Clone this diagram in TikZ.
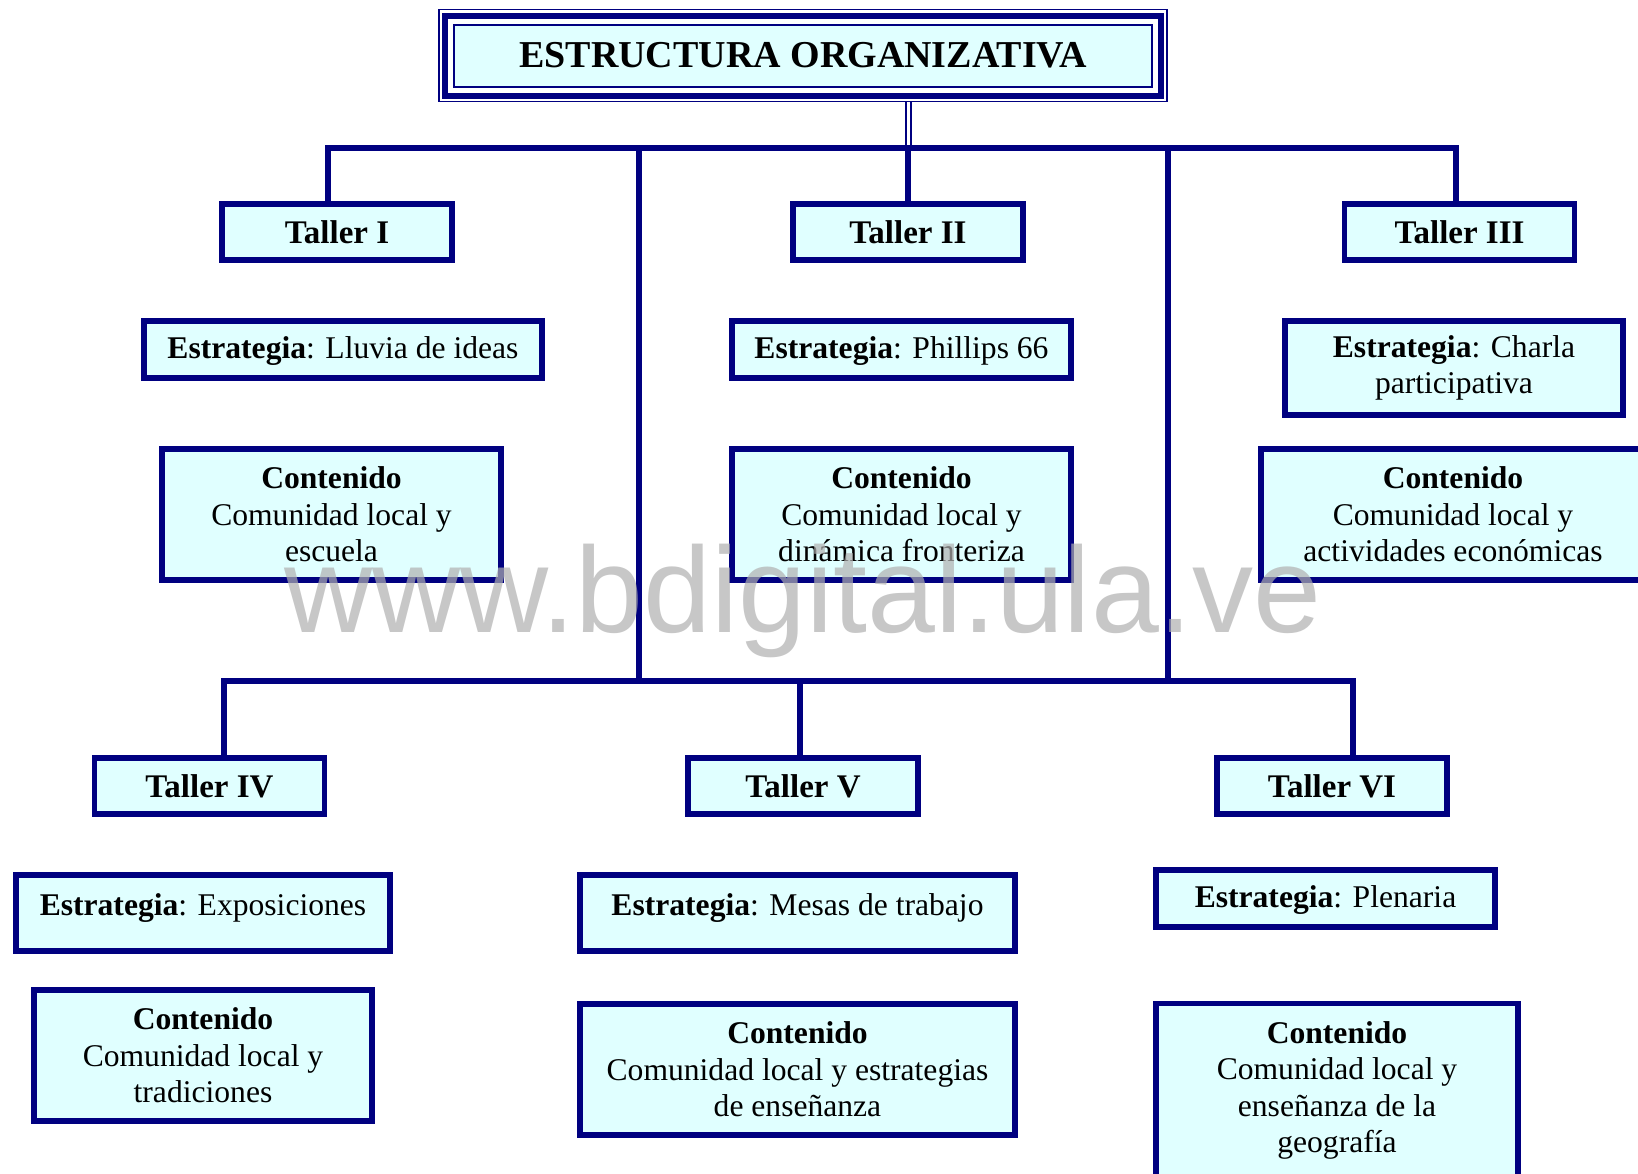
\documentclass[tikz,border=0pt]{standalone}
\usepackage{fontspec}
\setmainfont{Liberation Serif}
\newfontfamily\markfont{Liberation Sans}
\definecolor{navyline}{RGB}{0,0,128}
\definecolor{boxfill}{RGB}{224,255,255}
\tikzset{
  box/.style={draw=navyline, fill=boxfill, line width=2.8pt, align=center, inner sep=2pt, font=\fontsize{15.8}{18.3}\selectfont},
  taller/.style={box, minimum width=115pt, minimum height=28pt, font=\fontsize{16.5}{19}\selectfont\bfseries},
  link/.style={draw=navyline, line width=3.3pt},
}
\begin{document}
\begin{tikzpicture}[x=0.5pt, y=-0.5pt]
    \fill[white] (0,0) rectangle (1638,1173);
    \useasboundingbox (0,0) rectangle (1638,1173);

    % title
    \node[draw=navyline, fill=boxfill, line width=1pt, minimum width=349pt, minimum height=31pt, font=\fontsize{19}{22}\selectfont\bfseries] (title) at (803,55.5) {ESTRUCTURA ORGANIZATIVA};
    \draw[navyline, line width=3pt] ([shift={(-8,-8)}]title.north west) rectangle ([shift={(8,8)}]title.south east);
    \draw[navyline, line width=0.8pt] ([shift={(-14,-14)}]title.north west) rectangle ([shift={(14,14)}]title.south east);

    \coordinate (topL) at (328,148);
    \coordinate (topM) at (908,148);
    \coordinate (topR) at (1456,148);
    \coordinate (splitL) at (639,148);
    \coordinate (splitR) at (1168,148);
    \coordinate (lowL) at (224,681);
    \coordinate (lowM) at (800,681);
    \coordinate (lowR) at (1353,681);
    \coordinate (joinL) at (639,681);
    \coordinate (joinR) at (1168,681);

    % first row
    \node[taller] (t1) at (337,232) {Taller I};
    \node[taller] (t2) at (908,232) {Taller II};
    \node[taller] (t3) at (1459.5,232) {Taller III};
    \node[box, minimum width=199pt, minimum height=28.5pt, text depth=2pt] (e1) at (343,349.5) {\textbf{Estrategia}: Lluvia de ideas};
    \node[box, minimum width=169.5pt, minimum height=28.5pt, text depth=2pt] (e2) at (901.5,349.5) {\textbf{Estrategia}: Phillips 66};
    \node[box, minimum width=169pt, minimum height=47pt] (e3) at (1454,368) {\textbf{Estrategia}: Charla\\participativa};
    \node[box, minimum width=169.5pt, minimum height=65.5pt] (c1) at (331.5,514.5) {\textbf{Contenido}\\Comunidad local y\\escuela};
    \node[box, minimum width=169.5pt, minimum height=65.5pt] (c2) at (901.5,514.5) {\textbf{Contenido}\\Comunidad local y\\dinámica fronteriza};
    \node[box, minimum width=192pt, minimum height=65.5pt] (c3) at (1453,514.5) {\textbf{Contenido}\\Comunidad local y\\actividades económicas};

    % second row
    \node[taller] (t4) at (209.5,786) {Taller IV};
    \node[taller] (t5) at (803,786) {Taller V};
    \node[taller] (t6) at (1332,786) {Taller VI};
    \node[box, minimum width=187pt, minimum height=38pt, text depth=8pt] (e4) at (203,913) {\textbf{Estrategia}: Exposiciones};
    \node[box, minimum width=217.5pt, minimum height=38pt, text depth=8pt] (e5) at (797.5,913) {\textbf{Estrategia}: Mesas de trabajo};
    \node[box, minimum width=169.5pt, minimum height=28.5pt, text depth=2pt] (e6) at (1325.5,898.5) {\textbf{Estrategia}: Plenaria};
    \node[box, minimum width=169pt, minimum height=65.5pt] (c4) at (203,1055.5) {\textbf{Contenido}\\Comunidad local y\\tradiciones};
    \node[box, minimum width=217.5pt, minimum height=65.5pt] (c5) at (797.5,1069.5) {\textbf{Contenido}\\Comunidad local y estrategias\\de enseñanza};
    \node[box, minimum width=181pt, minimum height=87pt] (c6) at (1337,1090.5) {\textbf{Contenido}\\Comunidad local y\\enseñanza de la\\geografía};

    % connectors
    \draw[navyline, double=white, double distance=1.5pt, line width=1pt, shorten >=7pt] (topM) -- (topM |- title.south);
    \draw[link] (topL |- t1.north) -- (topL) -- (topR) -- (topR |- t3.north);
    \draw[link] (topM) -- (t2.north);
    \draw[link] (splitL) -- (joinL);
    \draw[link] (splitR) -- (joinR);
    \draw[link] (lowL |- t4.north) -- (lowL) -- (lowR) -- (lowR |- t6.north);
    \draw[link] (lowM) -- (lowM |- t5.north);

    \node[font=\markfont\fontsize{61}{61}\selectfont, text=black!31, text opacity=0.7, anchor=base] (mark) at (803,632) {www.bdigital.ula.ve};
\end{tikzpicture}
\end{document}
